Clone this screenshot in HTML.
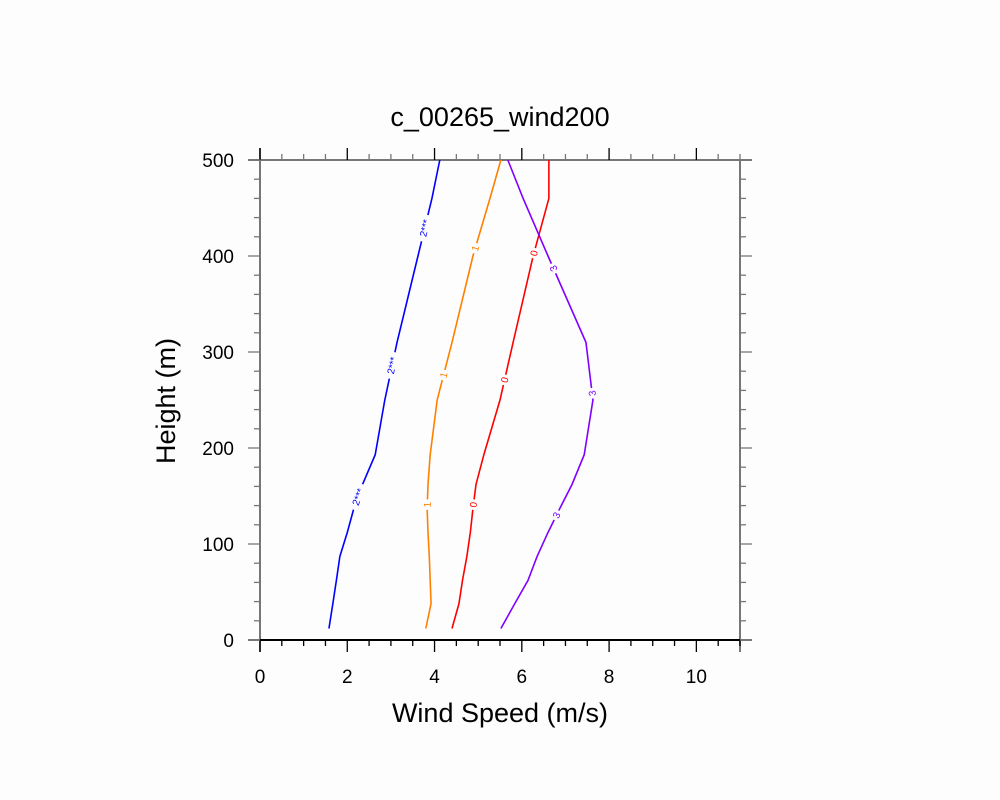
<!DOCTYPE html>
<html><head><meta charset="utf-8"><style>
html,body{margin:0;padding:0;background:#fdfdfd;}
svg{display:block;font-family:"Liberation Sans",sans-serif;}
</style></head><body>
<svg id="chart" width="1000" height="800" viewBox="0 0 1000 800">
<rect x="0" y="0" width="1000" height="800" fill="#fdfdfd"/>
<text x="500" y="126" font-size="27" text-anchor="middle" fill="#000">c_00265_wind200</text>
<text x="500" y="722" font-size="27" text-anchor="middle" fill="#000">Wind Speed (m/s)</text>
<text transform="translate(175,401) rotate(-90)" font-size="27" text-anchor="middle" fill="#000">Height (m)</text>
<g id="axes"></g>
<g id="series"></g>
</svg>
<script>
const heights = [12,38,62,87,112,137,162,193,250,310,400,460,500];
const seriesNames = ["blue","orange","red","purple"];
const seriesLabels = ["2***","1","0","3"];
const blueValues   = [1.58,1.67,1.75,1.83,2.0,2.15,2.35,2.64,2.86,3.14,3.62,3.94,4.12];
const orangeValues = [3.8,3.92,3.9,3.88,3.85,3.83,3.85,3.9,4.06,4.4,4.88,5.27,5.52];
const redValues    = [4.4,4.56,4.64,4.74,4.82,4.88,4.95,5.13,5.5,5.8,6.26,6.62,6.62];
const purpleValues = [5.52,5.84,6.14,6.35,6.6,6.87,7.15,7.43,7.63,7.47,6.6,6.03,5.68];
const xTicks = [0,2,4,6,8,10];
const yTicks = [0,100,200,300,400,500];
const blueLabelHeights = [149,286,429];
const orangeLabelHeights = [141,276,408];
const redLabelHeights = [141,271,403];
const purpleLabelHeights = [130,257,387];

const X0=260,X1=740,Y0=640,Y1=160,XMAX=11,YMAX=500;
const sx=v=>X0+(v/XMAX)*(X1-X0);
const sy=v=>Y0-(v/YMAX)*(Y0-Y1);
const NS="http://www.w3.org/2000/svg";
function mk(tag,attrs,parent){const e=document.createElementNS(NS,tag);for(const k in attrs)e.setAttribute(k,attrs[k]);parent.appendChild(e);return e;}
const axes=document.getElementById('axes');
const ser=document.getElementById('series');
const gray="#777";
let e;
e=mk('line',{x1:248,y1:Y1,x2:752,y2:Y1,stroke:gray,'stroke-width':2},axes);

e=mk('line',{x1:X1,y1:Y1,x2:X1,y2:652,stroke:gray,'stroke-width':2},axes);

e=mk('line',{x1:X0,y1:148,x2:X0,y2:652,stroke:gray,'stroke-width':2},axes);

e=mk('line',{x1:248,y1:Y0,x2:752,y2:Y0,stroke:gray,'stroke-width':2},axes);

e=mk('line',{x1:X0,y1:Y0,x2:X1,y2:Y0,stroke:"#000",'stroke-width':2},axes);

for(let v=0;v<=XMAX+1e-9;v+=0.5){
  const major=Math.abs(v%2)<1e-9;const L=major?12:6;const x=sx(v);
  e=mk('line',{x1:x,y1:Y0,x2:x,y2:Y0+L,stroke:"#000",'stroke-width':1.3},axes);
  
  e=mk('line',{x1:x,y1:Y1,x2:x,y2:Y1-L,stroke:major?"#000":gray,'stroke-width':1.3},axes);
  
}
xTicks.forEach(v=>{
  e=mk('text',{x:sx(v),y:683,'font-size':19,'text-anchor':'middle',fill:'#000'},axes);e.textContent=v;
  
});
for(let v=0;v<=YMAX;v+=20){
  const major=v%100===0;const L=major?12:6;const y=sy(v);
  e=mk('line',{x1:X0,y1:y,x2:X0-L,y2:y,stroke:gray,'stroke-width':1.3},axes);
  
  e=mk('line',{x1:X1,y1:y,x2:X1+L,y2:y,stroke:gray,'stroke-width':1.3},axes);
  
}
yTicks.forEach(v=>{
  e=mk('text',{x:234,y:sy(v)+7,'font-size':19,'text-anchor':'end',fill:'#000'},axes);e.textContent=v;
  
});
const allValues=[blueValues,orangeValues,redValues,purpleValues];
const allLabelHeights=[blueLabelHeights,orangeLabelHeights,redLabelHeights,purpleLabelHeights];
const colors=["#0000ff","#ff8000","#ff0000","#8000ff"];
function interp(vals,h){for(let i=0;i<heights.length-1;i++){if(h>=heights[i]&&h<=heights[i+1]){const t=(h-heights[i])/(heights[i+1]-heights[i]);return vals[i]+t*(vals[i+1]-vals[i]);}}return vals[vals.length-1];}
allValues.forEach((vals,si)=>{
  const pts=vals.map((v,i)=>sx(v)+","+sy(heights[i])).join(" ");
  e=mk('polyline',{points:pts,fill:'none',stroke:colors[si],'stroke-width':1.6},ser);
  
  allLabelHeights[si].forEach(h=>{
    const x=sx(interp(vals,h)),y=sy(h);
    const xa=sx(interp(vals,h-5)),ya=sy(h-5),xb=sx(interp(vals,h+5)),yb=sy(h+5);
    const ang=Math.atan2(yb-ya,xb-xa)*180/Math.PI;
    const w=seriesLabels[si].length*5.5+5;
    const g=mk('g',{transform:`translate(${x},${y}) rotate(${ang})`},ser);
    
    
    mk('rect',{x:-w/2,y:-5.5,width:w,height:11,fill:'#fdfdfd'},g);
    const t=mk('text',{x:0,y:3.5,'font-size':10,'text-anchor':'middle',fill:colors[si]},g);
    t.textContent=seriesLabels[si];
  });
});
</script>
</body></html>
